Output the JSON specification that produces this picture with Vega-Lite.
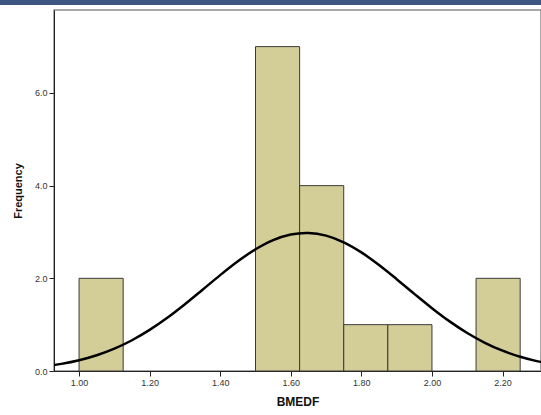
{
  "$schema": "https://vega.github.io/schema/vega-lite/v6.json",
  "width": 487,
  "height": 361,
  "autosize": "none",
  "padding": {"left": 54, "top": 10, "right": 0, "bottom": 44},
  "background": "white",
  "config": {
    "view": {"stroke": "#8a8a8a", "strokeWidth": 1.5},
    "font": "Liberation Sans",
    "axis": {"grid": false, "domainColor": "#222", "tickColor": "#222", "labelColor": "#333", "labelFontSize": 9, "titleColor": "#111", "titleFontWeight": "bold"}
  },
  "datasets": {
    "bins": [
      {"bin_start": 1.0, "bin_end": 1.125, "count": 2},
      {"bin_start": 1.5, "bin_end": 1.625, "count": 7},
      {"bin_start": 1.625, "bin_end": 1.75, "count": 4},
      {"bin_start": 1.75, "bin_end": 1.875, "count": 1},
      {"bin_start": 1.875, "bin_end": 2.0, "count": 1},
      {"bin_start": 2.125, "bin_end": 2.25, "count": 2}
    ],
    "curve": [
      {"x": 0.90, "y": 0.0985}, {"x": 0.95, "y": 0.1534}, {"x": 1.00, "y": 0.2318},
      {"x": 1.05, "y": 0.3395}, {"x": 1.10, "y": 0.4822}, {"x": 1.15, "y": 0.6640},
      {"x": 1.20, "y": 0.8866}, {"x": 1.25, "y": 1.1478}, {"x": 1.30, "y": 1.4407},
      {"x": 1.35, "y": 1.7535}, {"x": 1.40, "y": 2.0691}, {"x": 1.45, "y": 2.3674},
      {"x": 1.50, "y": 2.6264}, {"x": 1.55, "y": 2.8249}, {"x": 1.60, "y": 2.9462},
      {"x": 1.643, "y": 2.98}, {"x": 1.65, "y": 2.9791}, {"x": 1.70, "y": 2.9208},
      {"x": 1.75, "y": 2.7766}, {"x": 1.80, "y": 2.5591}, {"x": 1.85, "y": 2.2870},
      {"x": 1.90, "y": 1.9816}, {"x": 1.95, "y": 1.6649}, {"x": 2.00, "y": 1.3561},
      {"x": 2.05, "y": 1.0710}, {"x": 2.10, "y": 0.8202}, {"x": 2.15, "y": 0.6090},
      {"x": 2.20, "y": 0.4384}, {"x": 2.25, "y": 0.3060}, {"x": 2.30, "y": 0.2072},
      {"x": 2.35, "y": 0.1359}
    ],
    "band": [{"x1": 0.776, "x2": 2.4, "y1": 7.9, "y2": 8.1}]
  },
  "layer": [
    {
      "data": {"name": "bins"},
      "mark": {"type": "rect", "fill": "#d3ce97", "stroke": "#3a3a3a", "strokeWidth": 1},
      "encoding": {
        "x": {"field": "bin_start", "type": "quantitative",
              "scale": {"domain": [0.929, 2.309], "nice": false, "zero": false},
              "axis": {"title": "BMEDF", "titleFontSize": 12, "titlePadding": 9, "values": [1.0, 1.2, 1.4, 1.6, 1.8, 2.0, 2.2], "format": ".2f", "tickSize": 5, "labelPadding": 2}},
        "x2": {"field": "bin_end"},
        "y": {"field": "count", "type": "quantitative",
              "scale": {"domain": [0, 7.79], "nice": false},
              "axis": {"title": "Frequency", "titleFontSize": 11, "titlePadding": 11, "values": [0, 2, 4, 6], "format": ".1f", "tickSize": 5, "labelPadding": 2}},
        "y2": {"datum": 0}
      }
    },
    {
      "data": {"name": "curve"},
      "mark": {"type": "line", "color": "#000", "strokeWidth": 2.5, "clip": true, "interpolate": "monotone"},
      "encoding": {
        "x": {"field": "x", "type": "quantitative"},
        "y": {"field": "y", "type": "quantitative"}
      }
    },
    {
      "data": {"name": "band"},
      "mark": {"type": "rect", "fill": "#3d5580", "clip": false},
      "encoding": {
        "x": {"field": "x1", "type": "quantitative"},
        "x2": {"field": "x2"},
        "y": {"field": "y1", "type": "quantitative"},
        "y2": {"field": "y2"}
      }
    }
  ]
}
